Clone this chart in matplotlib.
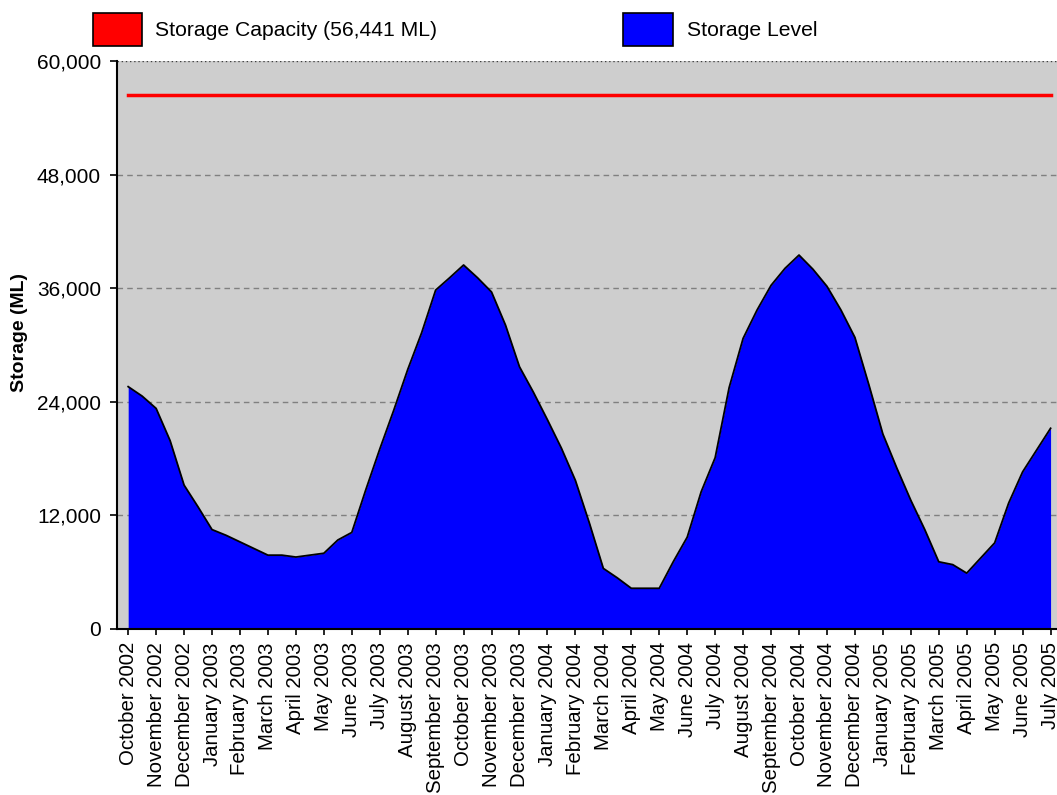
import matplotlib
matplotlib.use("Agg")
import matplotlib.pyplot as plt
from matplotlib.patches import Rectangle
import numpy as np

plt.rcParams['font.family'] = ['Liberation Sans', 'DejaVu Sans']

month_labels = ["October 2002", "November 2002", "December 2002", "January 2003", "February 2003",
                "March 2003", "April 2003", "May 2003", "June 2003", "July 2003", "August 2003",
                "September 2003", "October 2003", "November 2003", "December 2003", "January 2004",
                "February 2004", "March 2004", "April 2004", "May 2004", "June 2004", "July 2004",
                "August 2004", "September 2004", "October 2004", "November 2004", "December 2004",
                "January 2005", "February 2005", "March 2005", "April 2005", "May 2005", "June 2005",
                "July 2005"]

# semi-monthly readings (position in months from October 2002)
time_pos = [i * 0.5 for i in range(67)]
storage_level = [25600, 24600, 23300, 19900, 15200, 12900, 10500, 9900, 9200, 8500,
                 7800, 7800, 7600, 7800, 8000, 9400, 10200, 14700, 19000, 23100,
                 27400, 31300, 35800, 37100, 38450, 37100, 35600, 32100, 27700, 25000,
                 22100, 19100, 15700, 11200, 6400, 5400, 4300, 4300, 4300, 7100,
                 9700, 14500, 18100, 25500, 30700, 33700, 36300, 38100, 39500, 38000,
                 36200, 33700, 30800, 25800, 20600, 17000, 13600, 10500, 7100, 6800,
                 5900, 7500, 9100, 13300, 16600, 18900, 21200]
capacity = 56441
y_ticks = [0, 12000, 24000, 36000, 48000, 60000]

W, H = 1057, 795
fig = plt.figure(figsize=(W / 100, H / 100), dpi=100)
fig.patch.set_facecolor('white')

ax = fig.add_axes([117 / W, 1 - 629 / H, (W - 117) / W, (629 - 61) / H])
ax.set_facecolor('#cecece')

ax.fill_between(time_pos, storage_level, 0, color='#0000ff', linewidth=0, zorder=2)
ax.plot(time_pos, storage_level, color='black', linewidth=1.3, zorder=3)
ax.plot([0, 33], [capacity, capacity], color='#ff0000', linewidth=2.5, zorder=4)

ax.set_xlim(-0.40, 33.23)
ax.set_ylim(0, 60000)
ax.set_yticks(y_ticks)
ax.set_yticklabels([f"{v:,}" for v in y_ticks], fontsize=15)
ax.set_xticks(range(len(month_labels)))
ax.set_xticklabels(month_labels, rotation=90, fontsize=14.7)

for v in y_ticks[1:-1]:
    ax.axhline(v, color='#808080', linestyle=(0, (4, 3)), linewidth=1, zorder=1)
ax.axhline(60000, color='#404040', linestyle=(0, (1, 2)), linewidth=1, zorder=5)

for s in ['top', 'right']:
    ax.spines[s].set_visible(False)
for s in ['left', 'bottom']:
    ax.spines[s].set_color('black')
    ax.spines[s].set_linewidth(1.5)
    ax.spines[s].set_zorder(6)
ax.tick_params(axis='y', direction='out', length=5, width=1.2, colors='black', pad=6.5)
ax.tick_params(axis='x', direction='out', length=4.5, width=1.2, colors='black', pad=5)

fig.text(20 / W, 1 - 332 / H, "Storage (ML)", fontsize=14, fontweight='bold',
         rotation=90, ha='center', va='center')

# legend
fig.patches.append(Rectangle((93 / W, 1 - 45.5 / H), 49 / W, 33 / H, transform=fig.transFigure,
                             facecolor='#ff0000', edgecolor='black', linewidth=1.2))
fig.text(155 / W, 1 - 31 / H, "Storage Capacity (56,441 ML)", fontsize=15.2, va='center', ha='left')
fig.patches.append(Rectangle((623 / W, 1 - 45.5 / H), 50 / W, 33 / H, transform=fig.transFigure,
                             facecolor='#0000ff', edgecolor='black', linewidth=1.2))
fig.text(687 / W, 1 - 31 / H, "Storage Level", fontsize=15.2, va='center', ha='left')

fig.savefig("out.png", dpi=100)
